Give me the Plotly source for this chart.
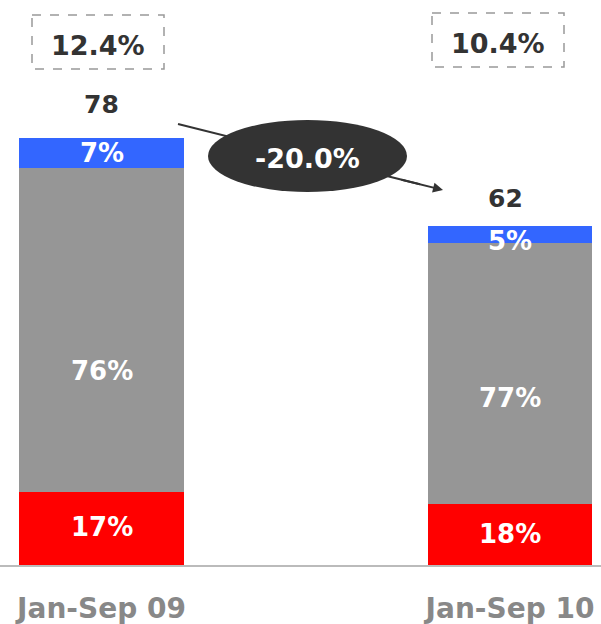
import plotly.graph_objects as go

# ---- data ----
categories = ["Jan-Sep 09", "Jan-Sep 10"]
totals = [78, 62]
share_red = [17, 18]
share_gray = [76, 77]
share_blue = [7, 5]
margin_labels = ["12.4%", "10.4%"]
change_label = "-20.0%"

FONT = "DejaVu Sans"
RED, GRAY, BLUE = "#ff0000", "#969696", "#3366ff"
DARK = "#333333"

xs = [0, 1]
red_vals = [t * s / 100 for t, s in zip(totals, share_red)]
gray_vals = [t * s / 100 for t, s in zip(totals, share_gray)]
blue_vals = [t * s / 100 for t, s in zip(totals, share_blue)]

W, H = 601, 624
BOTTOM = 59
PX_PER_X = 408.5
X0_PX = 101.5
YMAX = 103.2
PX_PER_Y = (H - BOTTOM) / YMAX

def xd(px):
    return (px - X0_PX) / PX_PER_X

def yd(py):
    return (H - BOTTOM - py) / PX_PER_Y

fig = go.Figure()
for vals, col in [(red_vals, RED), (gray_vals, GRAY), (blue_vals, BLUE)]:
    fig.add_trace(go.Bar(x=xs, y=vals, marker=dict(color=col, line=dict(width=0)),
                         width=0.403, hoverinfo="skip", showlegend=False))

ann = []
lab_font = dict(family=FONT, size=26, color="white")
gray_offsets = [-41, -25]
blue_offsets = [0, -7]
for i in range(2):
    r, g, b = red_vals[i], gray_vals[i], blue_vals[i]
    ann.append(dict(x=xs[i], y=r / 2, text=f"<b>{share_red[i]}%</b>", showarrow=False,
                    font=lab_font, xref="x", yref="y", yshift=[2, 0][i]))
    ann.append(dict(x=xs[i], y=r + g / 2, text=f"<b>{share_gray[i]}%</b>", showarrow=False,
                    font=lab_font, xref="x", yref="y", yshift=gray_offsets[i]))
    ann.append(dict(x=xs[i], y=r + g + b / 2, text=f"<b>{share_blue[i]}%</b>", showarrow=False,
                    font=lab_font, xref="x", yref="y", yshift=blue_offsets[i]))
    # totals
    ann.append(dict(x=xs[i], y=totals[i], text=f"<b>{totals[i]}</b>", showarrow=False,
                    font=dict(family=FONT, size=25, color=DARK), xref="x", yref="y",
                    yanchor="middle", yshift=[33, 27][i], xshift=[0, -5][i]))

# margin boxes
box_centers_px = [(98, 42), (498, 40)]
shapes = []
for i, (cx, cy) in enumerate(box_centers_px):
    ann.append(dict(x=xd(cx), y=yd(cy + 3), text=f"<b>{margin_labels[i]}</b>", showarrow=False,
                    font=dict(family=FONT, size=27, color=DARK), xref="x", yref="y"))
    shapes.append(dict(type="rect", xref="x", yref="y",
                       x0=xd(cx - 66), x1=xd(cx + 66), y0=yd(cy - 27), y1=yd(cy + 27),
                       line=dict(color="#999999", width=1.5, dash="dash"), layer="above"))

# arrow line behind ellipse
shapes.append(dict(type="line", xref="x", yref="y", x0=xd(178), y0=yd(124), x1=xd(420), y1=yd(184.3),
                   line=dict(color=DARK, width=2), layer="above"))
shapes.append(dict(type="circle", xref="x", yref="y", x0=xd(208), x1=xd(407), y0=yd(120), y1=yd(192),
                   fillcolor=DARK, line=dict(color=DARK, width=0), layer="above"))
ann.append(dict(x=xd(443), y=yd(190), ax=xd(400), ay=yd(179.3), axref="x", ayref="y",
                xref="x", yref="y", text="", showarrow=True, arrowhead=2, arrowsize=1,
                arrowwidth=2, arrowcolor=DARK, standoff=0))
ann.append(dict(x=xd(307), y=yd(158), text=f"<b>{change_label}</b>", showarrow=False,
                font=dict(family=FONT, size=27, color="white"), xref="x", yref="y"))

fig.update_layout(
    barmode="stack",
    width=W, height=H,
    margin=dict(l=0, r=0, t=0, b=BOTTOM, autoexpand=False),
    paper_bgcolor="white", plot_bgcolor="white",
    annotations=ann, shapes=shapes,
    xaxis=dict(range=[xd(0), xd(W)], tickvals=xs, ticktext=[f"<b>{c}</b>" for c in categories],
               tickfont=dict(family=FONT, size=28, color="#888888"), showgrid=False, zeroline=False,
               showline=True, linecolor="#bbbbbb", linewidth=1.5, ticks="", ticklabelstandoff=18,
               automargin=False),
    yaxis=dict(range=[0, YMAX], visible=False, showgrid=False, zeroline=False, automargin=False),
    bargap=0,
)

fig.write_html("out.html")
